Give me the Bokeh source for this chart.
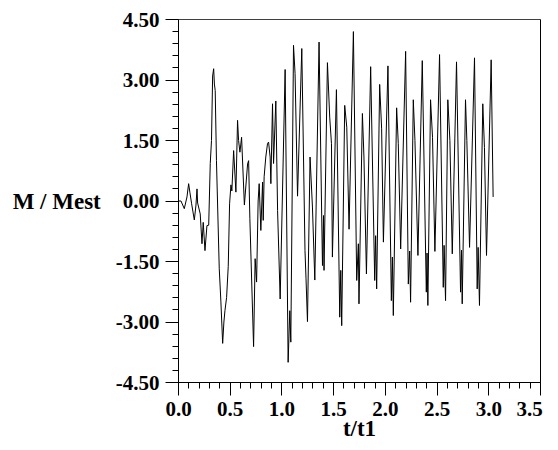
from bokeh.plotting import figure
from bokeh.models import SingleIntervalTicker, NumeralTickFormatter, Range1d, Span
from bokeh.embed import file_html
from bokeh.resources import INLINE

# time axis t/t1 and normalised moment M/Mest
t = [0.000, 0.024, 0.056, 0.082, 0.098, 0.111, 0.127, 0.153, 0.169, 0.179, 0.185,
     0.210, 0.227, 0.239, 0.256, 0.275, 0.292, 0.307, 0.319, 0.330, 0.340, 0.347,
     0.355, 0.367, 0.394, 0.410, 0.427, 0.439, 0.449, 0.465, 0.481, 0.494, 0.507,
     0.516, 0.533, 0.555, 0.571, 0.581, 0.594, 0.610, 0.637, 0.668, 0.678, 0.690,
     0.726, 0.741, 0.755, 0.770, 0.780, 0.796, 0.813, 0.819, 0.828, 0.844, 0.861,
     0.871, 0.886, 0.893, 0.909, 0.919, 0.941, 0.958, 0.983, 1.031, 1.060, 1.076,
     1.086, 1.112, 1.127, 1.151, 1.192, 1.223, 1.233, 1.247, 1.272, 1.295, 1.318,
     1.359, 1.392, 1.402, 1.407, 1.440, 1.462, 1.479, 1.488, 1.527, 1.559, 1.569,
     1.578, 1.607, 1.627, 1.649, 1.691, 1.723, 1.739, 1.745, 1.778, 1.793, 1.817,
     1.858, 1.897, 1.906, 1.916, 1.945, 1.964, 1.981, 2.025, 2.058, 2.068, 2.077,
     2.109, 2.125, 2.148, 2.196, 2.222, 2.235, 2.244, 2.270, 2.286, 2.315, 2.357,
     2.396, 2.403, 2.411, 2.437, 2.456, 2.479, 2.524, 2.560, 2.568, 2.582, 2.604,
     2.624, 2.647, 2.688, 2.727, 2.736, 2.743, 2.775, 2.788, 2.814, 2.862, 2.888,
     2.897, 2.910, 2.942, 2.958, 2.978, 3.023, 3.042]
m = [0.00, 0.00, -0.19, 0.10, 0.43, 0.20, -0.07, -0.47, -0.10, 0.30, -0.05,
     -0.32, -1.06, -0.53, -1.23, -0.61, -0.60, 0.93, 1.50, 3.10, 3.28, 2.90,
     2.74, 1.00, -1.68, -2.50, -3.53, -3.00, -2.72, -2.39, -1.62, -0.07, 0.40,
     0.25, 1.25, 0.22, 2.00, 1.50, 1.21, 1.58, -0.10, 0.92, 1.00, -0.44,
     -3.61, -1.43, -2.01, 0.00, 0.43, -0.73, 0.47, -0.48, 0.60, 1.09, 1.43,
     1.46, 1.09, 0.43, 2.41, 0.93, 2.48, -0.24, -2.43, 3.26, -4.00, -2.72,
     -3.50, 3.86, 3.16, 0.12, 3.78, -1.23, -1.93, -2.99, 1.09, -0.15, -1.96,
     3.94, -1.60, -0.36, -1.72, 3.43, 2.08, 1.42, -1.39, 2.76, -2.88, -1.72,
     -3.09, 2.37, 1.83, -0.70, 4.20, -1.97, -1.06, -2.55, 2.17, 1.09, -1.81,
     3.33, -1.97, -0.86, -2.18, 2.89, 1.79, -1.02, 3.35, -2.47, -1.39, -2.84,
     2.31, 1.42, -1.19, 3.71, -2.06, -1.24, -2.51, 2.51, 1.50, -1.35, 3.48,
     -2.26, -1.29, -2.59, 2.51, 1.58, -1.25, 3.63, -2.14, -1.10, -2.47, 2.51,
     1.50, -1.31, 3.45, -2.26, -1.22, -2.55, 2.51, 1.50, -1.15, 3.55, -2.18,
     -1.15, -2.59, 2.41, 1.33, -1.35, 3.50, 0.10]

x_tick_step = 0.5
y_tick_step = 1.5
x_min, x_max = 0.0, 3.5
y_min, y_max = -4.5, 4.5

FONT = "Liberation Serif"
FS = "21px"

p = figure(frame_width=362, frame_height=363, output_backend="svg",
           toolbar_location=None,
           x_range=Range1d(x_min, x_max), y_range=Range1d(y_min, y_max),
           min_border_left=178, min_border_right=18, min_border_top=19,
           min_border_bottom=58, background_fill_color="white",
           border_fill_color="white")
p.grid.visible = False
p.outline_line_color = "black"
p.outline_line_width = 1

p.line(t, m, line_color="black", line_width=1)

# grey top border of the plot box
p.add_layout(Span(location=y_max, dimension="width", line_color="#808080",
                  line_width=1))

xa = p.xaxis[0]
xa.ticker = SingleIntervalTicker(interval=x_tick_step, num_minor_ticks=5)
xa.formatter = NumeralTickFormatter(format="0.0")
xa.axis_label = "t/t1"
xa.major_label_overrides = {3.5: "3.5\u00a0\u00a0\u00a0"}
ya = p.yaxis[0]
ya.ticker = SingleIntervalTicker(interval=y_tick_step, num_minor_ticks=5)
ya.formatter = NumeralTickFormatter(format="0.00")
ya.axis_label = "M / Mest"
ya.axis_label_orientation = "horizontal"

for ax in (xa, ya):
    ax.axis_line_color = "black"
    ax.major_tick_line_color = "black"
    ax.minor_tick_line_color = "black"
    ax.major_tick_out = 13
    ax.major_tick_in = 0
    ax.minor_tick_out = 6
    ax.minor_tick_in = 0
    ax.major_label_text_font = FONT
    ax.major_label_text_font_style = "bold"
    ax.major_label_text_font_size = FS
    ax.major_label_text_color = "black"
    ax.axis_label_text_font = FONT
    ax.axis_label_text_font_style = "bold"
    ax.axis_label_text_font_size = "23px"
    ax.axis_label_text_color = "black"
xa.major_label_standoff = 1
xa.axis_label_standoff = -8
ya.major_label_standoff = 6
ya.axis_label_standoff = 12

open("out.html", "w").write(file_html(p, INLINE))
